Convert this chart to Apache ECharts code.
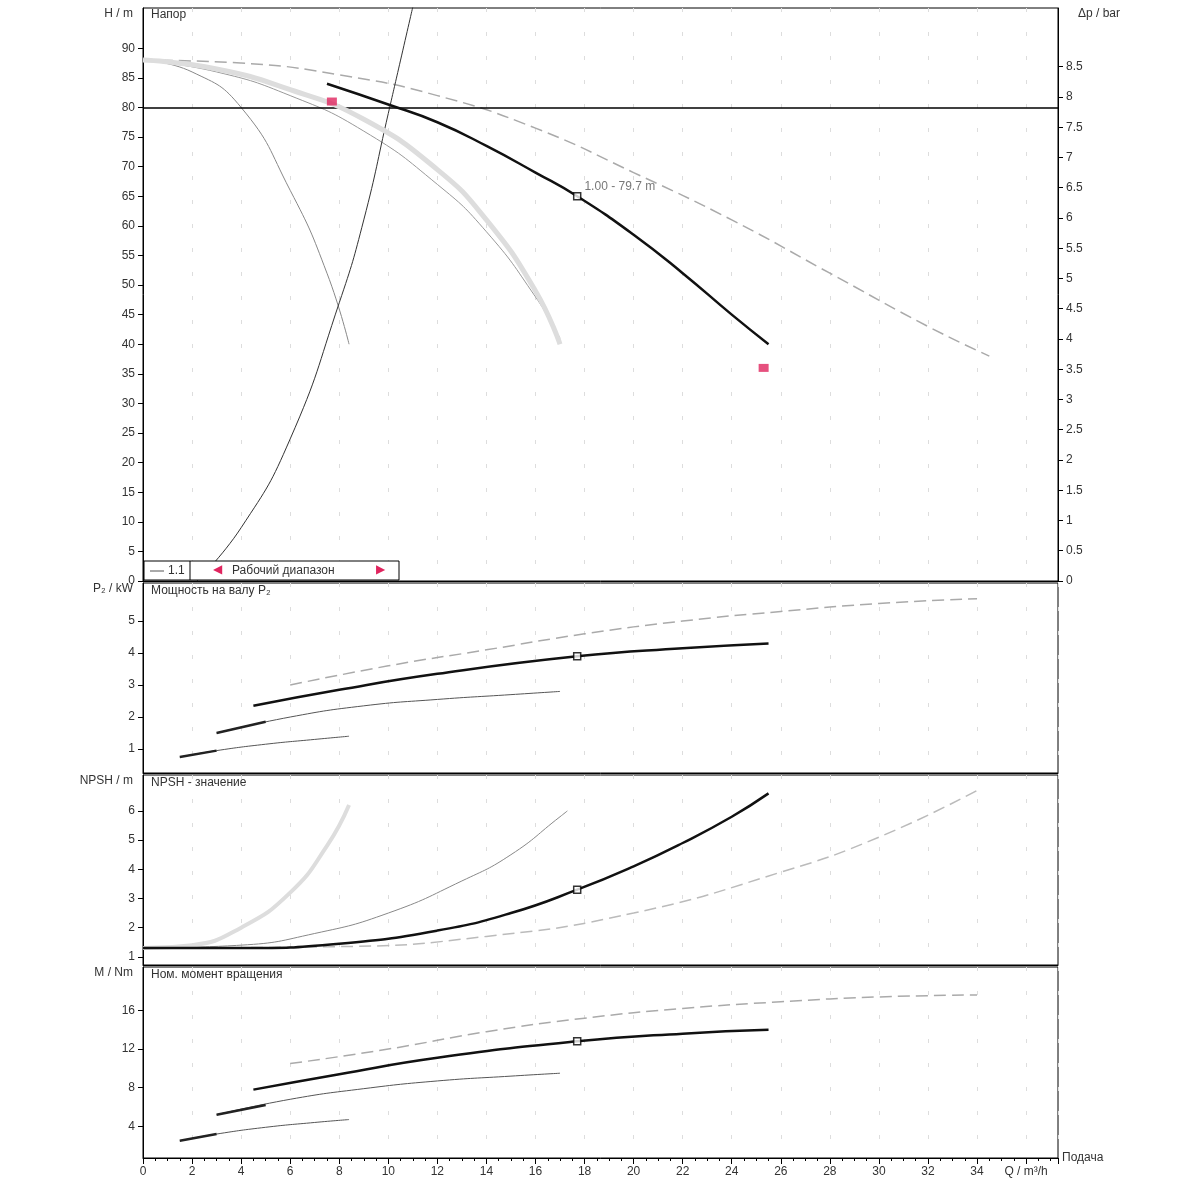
<!DOCTYPE html>
<html><head><meta charset="utf-8">
<script src="https://cdn.jsdelivr.net/npm/echarts@6/dist/echarts.min.js"></script>
<style>html,body{margin:0;background:#fff}#c{width:1200px;height:1200px}</style>
</head><body><div id="c"></div>
<script>
// Head panel
const headMain = [[7.5,84],[10,80.5],[12,77.5],[14,73.5],[16,69],[17.7,65],[20,58.5],[22,52],[24,45],[25.5,40]];
const headMax = [[0,88],[4,87.5],[8,85.5],[12,82],[16,76.5],[20,69],[24,61],[28,52],[32,43],[34.5,38]];
const headMid = [[0,88],[3,86.5],[6,83],[9,78],[12,69.5],[14,61],[16,49],[17,40]];
const headMid2 = [[0,88],[3,86],[6,82],[9,76],[12,67],[14,59],[16,48],[17,41]];
const headLow = [[0,88],[2,86],[4,80],[6,66],[7.5,52],[8.4,40]];
const sysCurve = [[2.2,0],[4,9],[6,24],[8,47],[9,61],[10,79],[10.5,88],[11,97]];
const dutyQ = [17.7]; const dutyH = [65];
const redMarks = [[7.7,81],[25.3,36]];
// Power P2
const pMain = [[4.5,2.35],[8,2.85],[12,3.35],[17.7,3.9],[22,4.15],[25.5,4.3]];
const pMax = [[6,3.0],[10,3.6],[14,4.1],[18,4.6],[22,5.0],[26,5.3],[30,5.55],[34,5.7]];
const pMid = [[3,1.5],[6,2.0],[9,2.35],[12,2.55],[15,2.7],[17,2.8]];
const pLow = [[1.5,0.75],[3,0.95],[5,1.15],[7,1.3],[8.4,1.4]];
// NPSH
const nMain = [[0,1.3],[4,1.3],[8,1.45],[12,1.9],[15,2.5],[17.7,3.3],[20,4.1],[22,4.9],[24,5.8],[25.5,6.6]];
const nMax = [[0,1.3],[8,1.35],[14,1.7],[20,2.5],[26,3.9],[30,5.1],[34,6.7]];
const nMid = [[0,1.3],[4,1.4],[7,1.8],[10,2.5],[13,3.6],[15,4.5],[17,5.8],[17.3,6]];
const nLow = [[0,1.3],[2,1.4],[4,2.0],[6,3.2],[7.5,4.8],[8.4,6.2]];
// Torque
const tMain = [[4.5,7.8],[8,9.4],[12,11.1],[17.7,12.8],[22,13.6],[25.5,14]];
const tMax = [[6,10.5],[10,12],[14,13.8],[18,15.2],[22,16.2],[26,16.9],[30,17.4],[34,17.6]];
const tMid = [[3,5.2],[6,6.8],[9,7.9],[12,8.7],[15,9.2],[17,9.5]];
const tLow = [[1.5,2.5],[3,3.2],[5,3.9],[7,4.4],[8.4,4.7]];
// Tick labels
const hTicks = [0,5,10,15,20,25,30,35,40,45,50,55,60,65,70,75,80,85,90];
const pTicks = [1,2,3,4,5];
const nTicks = [1,2,3,4,5,6];
const tTicks = [4,8,12,16];
const dpTicks = [0,0.5,1,1.5,2,2.5,3,3.5,4,4.5,5,5.5,6,6.5,7,7.5,8,8.5];

const grids = [
  {left:143,right:142,top:8,height:573},
  {left:143,right:142,top:583,height:190},
  {left:143,right:142,top:775,height:190},
  {left:143,right:142,top:967,height:191}
];
const txt = {fontFamily:'Liberation Sans',fontSize:12,color:'#333'};
const grid2 = {show:true,lineStyle:{color:'#ddd',type:[4,20]}};
function xa(i){return {type:'value',gridIndex:i,min:0,max:37.3,interval:2,
  axisLine:{show:true,onZero:false,lineStyle:{color:'#000'}},
  axisTick:{show:i===3,length:6,lineStyle:{color:'#000'}},
  minorTick:{show:i===3,splitNumber:4,length:3,lineStyle:{color:'#000'}},
  axisLabel:{show:i===3,...txt,formatter:v=>v<=34?String(v):(v===36?'Q / m³/h':'')},
  splitLine:grid2};}
function ya(i,min,max,ticks,name){return {type:'value',gridIndex:i,min,max,
  name,nameLocation:'end',nameGap:-12,nameTextStyle:{...txt,align:'right',padding:[0,10,0,0]},
  axisLine:{show:true,lineStyle:{color:'#000'}},
  axisTick:{show:true,length:5,customValues:ticks},
  axisLabel:{...txt,customValues:ticks},
  splitLine:{show:false}};}
const yAxes=[
  ya(0,0,96.8,hTicks,'H / m'),
  ya(1,0.25,6.19,pTicks,'P₂ / kW'),
  ya(2,0.72,7.23,nTicks,'NPSH / m'),
  ya(3,0.72,20.5,tTicks,'M / Nm'),
  {type:'value',gridIndex:0,position:'right',min:0,max:9.47,
   name:'Δp / bar',nameLocation:'end',nameGap:-12,nameTextStyle:{...txt,align:'left',padding:[0,0,0,20]},
   axisLine:{show:true,lineStyle:{color:'#000'}},axisTick:{show:true,length:5,customValues:dpTicks},
   axisLabel:{...txt,customValues:dpTicks},splitLine:{show:false}}
];
function L(xi,yi,data,w,color,type,extra){return Object.assign({type:'line',xAxisIndex:xi,yAxisIndex:yi,data,smooth:true,symbol:'none',
  lineStyle:{width:w,color,type:type||'solid'},z:w>2?5:3,silent:true},extra||{});}
const ptStyle={symbol:'rect',symbolSize:7,itemStyle:{color:'#fff',borderColor:'#000',borderWidth:1.5}};
function duty(xi,yi,y){return {type:'scatter',xAxisIndex:xi,yAxisIndex:yi,data:[[17.7,y]],...ptStyle,z:10};}
const series=[
  L(0,0,headMax,1.5,'#aaa',[12,6]),
  L(0,0,headMid,5,'#ddd'),
  L(0,0,headMid2,1,'#999'),
  L(0,0,headLow,1,'#888'),
  L(0,0,sysCurve,1,'#333'),
  L(0,0,headMain,2.5,'#111',null,{markLine:{silent:true,symbol:'none',label:{show:false},lineStyle:{color:'#000',width:1.5,type:'solid'},data:[{yAxis:80}]}}),
  {type:'scatter',xAxisIndex:0,yAxisIndex:0,data:[[dutyQ[0],dutyH[0]]],...ptStyle,z:10,
   label:{show:true,position:'right',offset:[-2,-10],formatter:'1.00 - 79.7 m',...txt,color:'#555'}},
  {type:'scatter',xAxisIndex:0,yAxisIndex:0,data:redMarks,symbol:'rect',symbolSize:[10,8],itemStyle:{color:'#e0245e'},z:10},
  L(1,1,pMax,1.5,'#aaa',[12,6]),
  L(1,1,pMid,1,'#555'),
  L(1,1,pLow,1,'#555'),
  L(1,1,[[3,1.5],[5,1.85]],2.5,'#222'),
  L(1,1,[[1.5,0.75],[3,0.95]],2.5,'#222'),
  L(1,1,pMain,2.5,'#111'),
  duty(1,1,3.9),
  L(2,2,nMax,1.5,'#bbb',[12,6]),
  L(2,2,nMid,1,'#888'),
  L(2,2,nLow,4,'#ddd'),
  L(2,2,nMain,2.5,'#111'),
  duty(2,2,3.3),
  L(3,3,tMax,1.5,'#aaa',[12,6]),
  L(3,3,tMid,1,'#555'),
  L(3,3,tLow,1,'#555'),
  L(3,3,[[3,5.2],[5,6.2]],2.5,'#222'),
  L(3,3,[[1.5,2.5],[3,3.2]],2.5,'#222'),
  L(3,3,tMain,2.5,'#111'),
  duty(3,3,12.8)
];
const chart=echarts.init(document.getElementById('c'),null,{renderer:'canvas'});
chart.setOption({animation:false,
  grid:grids.map(g=>Object.assign({show:true,borderColor:'#000',borderWidth:1},g)),
  xAxis:[xa(0),xa(1),xa(2),xa(3)],
  yAxis:yAxes,series,
  graphic:[
    {type:'text',left:151,top:9,style:{text:'Напор',...txt,fill:'#333'}},
    {type:'text',left:151,top:585,style:{text:'Мощность на валу P₂',...txt,fill:'#333'}},
    {type:'text',left:151,top:777,style:{text:'NPSH - значение',...txt,fill:'#333'}},
    {type:'text',left:151,top:969,style:{text:'Ном. момент вращения',...txt,fill:'#333'}},
    {type:'text',left:1062,top:1152,style:{text:'Подача',...txt,fill:'#333'}},
    {type:'rect',shape:{x:144,y:561,width:255,height:19},style:{fill:'#fff',stroke:'#000',lineWidth:1},z:20},
    {type:'line',shape:{x1:190,y1:561,x2:190,y2:580},style:{stroke:'#000'},z:21},
    {type:'line',shape:{x1:150,y1:571,x2:164,y2:571},style:{stroke:'#555'},z:21},
    {type:'text',left:168,top:565,style:{text:'1.1',...txt,fill:'#333'},z:21},
    {type:'text',left:213,top:564,style:{text:'◀',fontSize:12,fill:'#e0245e'},z:21},
    {type:'text',left:232,top:565,style:{text:'Рабочий диапазон',...txt,fill:'#333'},z:21},
    {type:'text',left:376,top:564,style:{text:'▶',fontSize:12,fill:'#e0245e'},z:21}
  ]
});
</script></body></html>
